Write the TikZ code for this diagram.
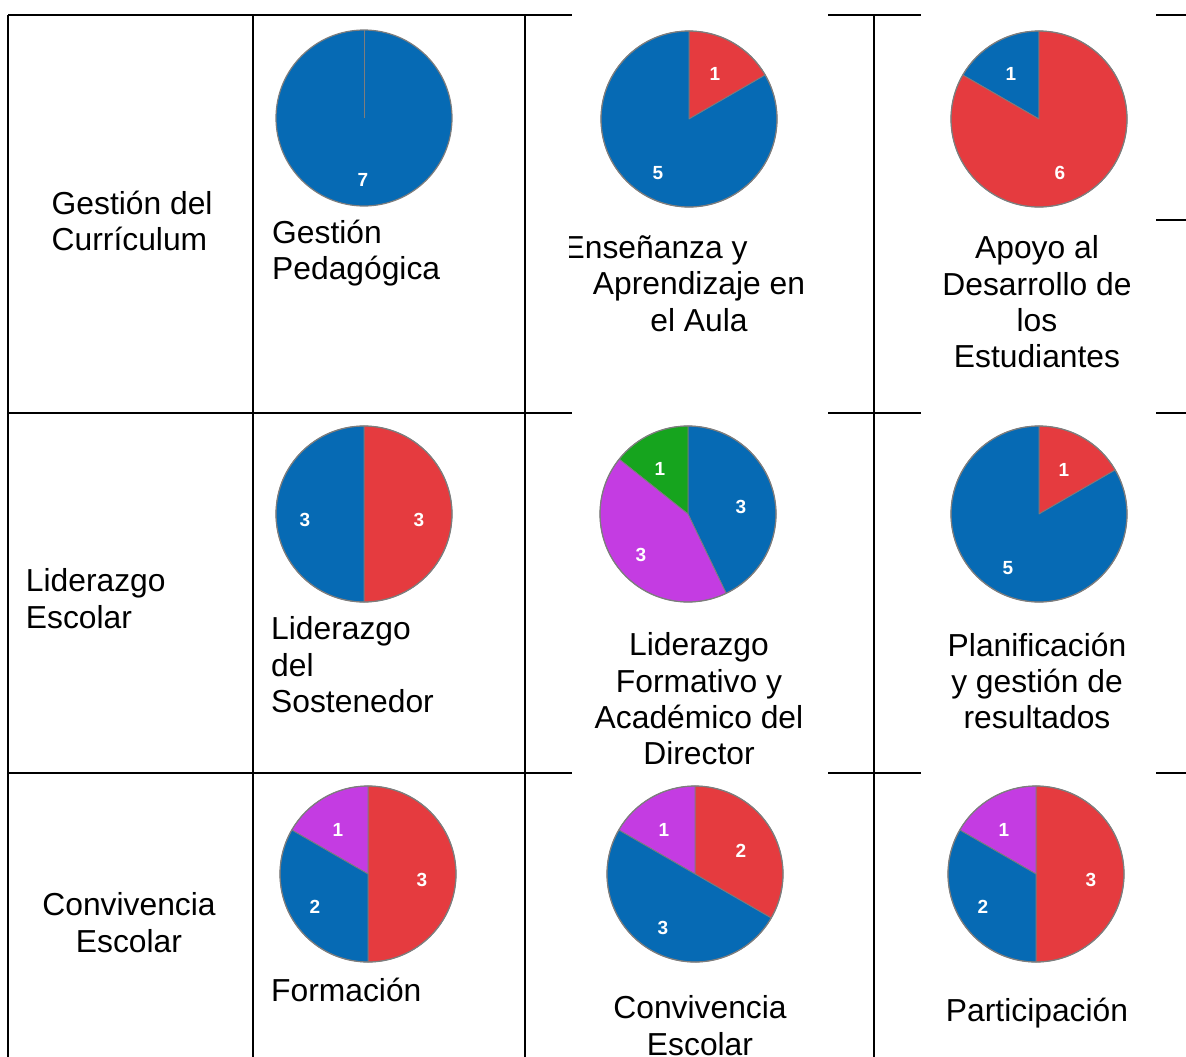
\documentclass[tikz,border=0pt]{standalone}
\usepackage{fontspec}
\setmainfont{Liberation Sans}
\definecolor{pieblue}{RGB}{6,106,180}
\definecolor{piered}{RGB}{229,59,63}
\definecolor{piepurple}{RGB}{196,60,226}
\definecolor{piegreen}{RGB}{22,164,30}
\definecolor{piegray}{RGB}{125,125,125}
\newcommand{\slice}[4]{\fill[#4, draw=piegray, line width=.8pt, line join=round] (#1) -- ++(#2:88) arc[start angle=#2, end angle=#3, radius=88] -- cycle;}

\begin{document}
\begin{tikzpicture}[x=1pt, y=1pt,
    rule/.style={line width=2.2pt},
    rim/.style={draw=piegray, line width=1.2pt},
    num/.style={text=white, font=\fontsize{19}{19}\selectfont\bfseries, inner sep=0pt},
    txt/.style={font=\fontsize{31.8}{36.3}\selectfont, inner sep=0pt, execute at begin node=\strut},
    lft/.style={txt, align=left, anchor=north west},
    mid/.style={txt, align=center, anchor=north}]
\useasboundingbox (0,0) rectangle (1186,-1057);

% table rules
\draw[rule] (8,-15) -- (8,-1057) (253,-15) -- (253,-1057) (525,-15) -- (525,-1057) (874,-15) -- (874,-1057);
\draw[rule] (8,-15) -- (572,-15) (828,-15) -- (921,-15) (1156,-15) -- (1186,-15);
\draw[rule] (8,-413) -- (572,-413) (828,-413) -- (921,-413) (1156,-413) -- (1186,-413);
\draw[rule] (8,-773) -- (572,-773) (828,-773) -- (921,-773) (1156,-773) -- (1186,-773);
\draw[rule] (1156,-220) -- (1186,-220);

% first column
\node[lft] (gc) at (51.5,-190.6) {Gestión del\\Currículum};
\node[lft] (le) at (25.7,-568.6) {Liderazgo\\Escolar};
\node[mid] (ce) at (129,-892.6) {Convivencia\\Escolar};

% pies, row 1
\coordinate (p1) at (364,-118);
\fill[pieblue] (p1) circle[radius=88];
\draw[piegray, line width=.8pt] (p1) -- ++(90:88);
\draw[rim] (p1) circle[radius=88];
\node[num] (p1a) at (363,-180) {7};

\coordinate (p2) at (689,-119);
\slice{p2}{30}{90}{piered}
\slice{p2}{90}{390}{pieblue}
\draw[rim] (p2) circle[radius=88];
\node[num] (p2a) at (715,-74) {1};
\node[num] (p2b) at (658,-173) {5};

\coordinate (p3) at (1039,-119);
\slice{p3}{90}{150}{pieblue}
\slice{p3}{150}{450}{piered}
\draw[rim] (p3) circle[radius=88];
\node[num] (p3a) at (1011,-74) {1};
\node[num] (p3b) at (1060,-173) {6};

% pies, row 2
\coordinate (p4) at (364,-514);
\slice{p4}{-90}{90}{piered}
\slice{p4}{90}{270}{pieblue}
\draw[rim] (p4) circle[radius=88];
\node[num] (p4a) at (305,-520) {3};
\node[num] (p4b) at (419,-520) {3};

\coordinate (p5) at (688,-514);
\slice{p5}{-64.29}{90}{pieblue}
\slice{p5}{90}{141.43}{piegreen}
\slice{p5}{141.43}{295.71}{piepurple}
\draw[rim] (p5) circle[radius=88];
\node[num] (p5a) at (741,-507) {3};
\node[num] (p5b) at (641,-555) {3};
\node[num] (p5c) at (660,-469) {1};

\coordinate (p6) at (1039,-514);
\slice{p6}{30}{90}{piered}
\slice{p6}{90}{390}{pieblue}
\draw[rim] (p6) circle[radius=88];
\node[num] (p6a) at (1064,-470) {1};
\node[num] (p6b) at (1008,-568) {5};

% pies, row 3
\coordinate (p7) at (368,-874);
\slice{p7}{-90}{90}{piered}
\slice{p7}{90}{150}{piepurple}
\slice{p7}{150}{270}{pieblue}
\draw[rim] (p7) circle[radius=88];
\node[num] (p7a) at (338,-830) {1};
\node[num] (p7b) at (422,-880) {3};
\node[num] (p7c) at (315,-907) {2};

\coordinate (p8) at (695,-874);
\slice{p8}{-30}{90}{piered}
\slice{p8}{90}{150}{piepurple}
\slice{p8}{150}{330}{pieblue}
\draw[rim] (p8) circle[radius=88];
\node[num] (p8a) at (664,-830) {1};
\node[num] (p8b) at (741,-851) {2};
\node[num] (p8c) at (663,-928) {3};

\coordinate (p9) at (1036,-874);
\slice{p9}{-90}{90}{piered}
\slice{p9}{90}{150}{piepurple}
\slice{p9}{150}{270}{pieblue}
\draw[rim] (p9) circle[radius=88];
\node[num] (p9a) at (1004,-830) {1};
\node[num] (p9b) at (1091,-880) {3};
\node[num] (p9c) at (983,-907) {2};

% captions
\node[lft] (gp) at (272,-219.6) {Gestión\\Pedagógica};
\node[lft] (ls) at (271,-616.6) {Liderazgo\\del\\Sostenedor};
\node[lft] (fo) at (271,-975.6) {Formación};
\begin{scope}
  \clip (569,-200) rectangle (860,-360);
  \node[mid] (ea) at (699,-235.6) {Enseñanza y\hspace*{86.8pt}\\Aprendizaje en\\el Aula};
\end{scope}
\node[mid] (ld) at (699,-632.6) {Liderazgo\\Formativo y\\Académico del\\Director};
\node[mid] (cv) at (700,-995.6) {Convivencia\\Escolar};
\node[mid] (ad) at (1037,-235.6) {Apoyo al\\Desarrollo de\\los\\Estudiantes};
\node[mid] (pg) at (1037,-632.6) {Planificación\\y gestión de\\resultados};
\node[mid] (pa) at (1037,-995.6) {Participación};
\end{tikzpicture}
\end{document}
